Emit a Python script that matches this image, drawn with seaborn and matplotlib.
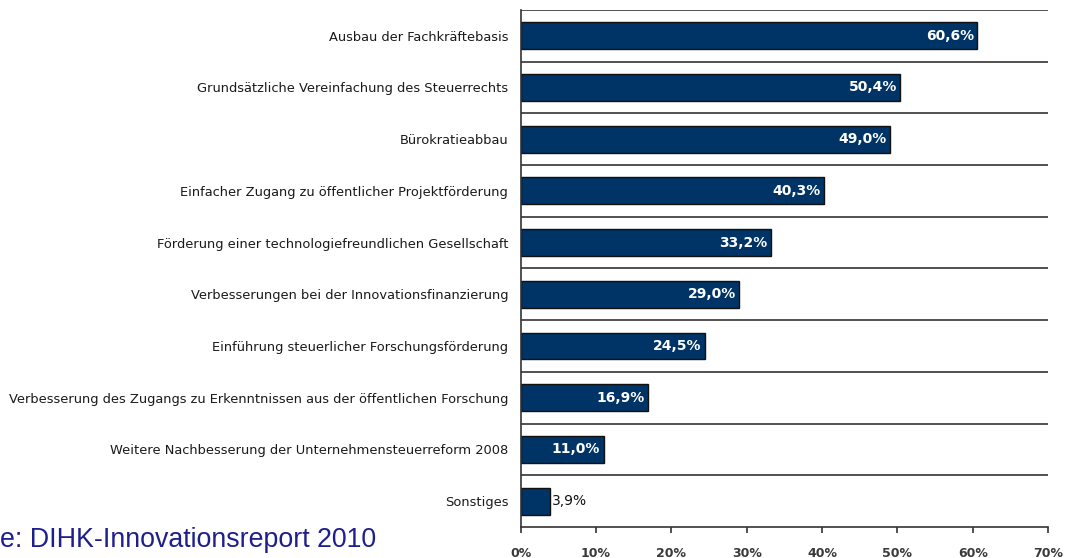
import matplotlib
matplotlib.use("Agg")
import matplotlib.pyplot as plt
import seaborn as sns
import pandas as pd

categories = [
    "Ausbau der Fachkräftebasis",
    "Grundsätzliche Vereinfachung des Steuerrechts",
    "Bürokratieabbau",
    "Einfacher Zugang zu öffentlicher Projektförderung",
    "Förderung einer technologiefreundlichen Gesellschaft",
    "Verbesserungen bei der Innovationsfinanzierung",
    "Einführung steuerlicher Forschungsförderung",
    "Verbesserung des Zugangs zu Erkenntnissen aus der öffentlichen Forschung",
    "Weitere Nachbesserung der Unternehmensteuerreform 2008",
    "Sonstiges",
]
values = [60.6, 50.4, 49.0, 40.3, 33.2, 29.0, 24.5, 16.9, 11.0, 3.9]
x_ticks = [0, 10, 20, 30, 40, 50, 60, 70]
source_text = "e: DIHK-Innovationsreport 2010"


def main():
    sns.set_style("white")
    plt.rcParams["font.family"] = ["DejaVu Sans"]

    df = pd.DataFrame({"Massnahme": categories, "Anteil": values})

    fig = plt.figure(figsize=(10.68, 5.58), dpi=100)
    ax = fig.add_axes([0.4875, 0.0556, 0.4938, 0.9268])

    sns.barplot(data=df, x="Anteil", y="Massnahme", orient="h", color="#003366",
                saturation=1, width=0.52, edgecolor="#111111", linewidth=1, ax=ax)

    # value labels: white inside the bar, black outside for short bars
    for patch, v in zip(ax.patches, values):
        label = f"{v:.1f}".replace(".", ",") + "%"
        yc = patch.get_y() + patch.get_height() / 2
        if v > 8:
            ax.text(patch.get_width() - 0.45, yc, label, ha="right", va="center",
                    color="white", fontsize=10, fontweight="bold")
        else:
            ax.text(patch.get_width() + 0.25, yc, label, ha="left", va="center",
                    color="#111111", fontsize=10)

    n = len(categories)
    ax.set_xlim(0, 70)
    ax.set_ylim(n - 0.5, -0.5)
    ax.set_xticks(x_ticks)
    ax.set_xticklabels([f"{t}%" for t in x_ticks], fontsize=9, color="#3a3a3a",
                       fontweight="bold")
    ax.set_yticks(range(n))
    ax.set_yticklabels(categories, fontsize=9.4, color="#1a1a1a")
    ax.set_yticks([i - 0.5 for i in range(n)], minor=True)
    ax.tick_params(axis="y", which="major", length=0, pad=9)
    ax.tick_params(axis="y", which="minor", length=3.5, width=1.2, color="#333333")
    ax.tick_params(axis="x", which="major", length=4.5, width=1.2, color="#333333",
                   direction="out", pad=10, bottom=True)
    ax.grid(axis="y", which="minor", color="#333333", linewidth=1.2)
    ax.set_axisbelow(True)
    ax.set_xlabel("")
    ax.set_ylabel("")

    for side in ["top", "right"]:
        ax.spines[side].set_visible(False)
    for side in ["left", "bottom"]:
        ax.spines[side].set_color("#333333")
        ax.spines[side].set_linewidth(1.2)

    fig.text(0.0, 0.0197, source_text, fontsize=19.3, color="#1f1f8c",
             family="Liberation Sans", ha="left", va="baseline")

    fig.savefig("out.png", dpi=100)


if __name__ == "__main__":
    main()
